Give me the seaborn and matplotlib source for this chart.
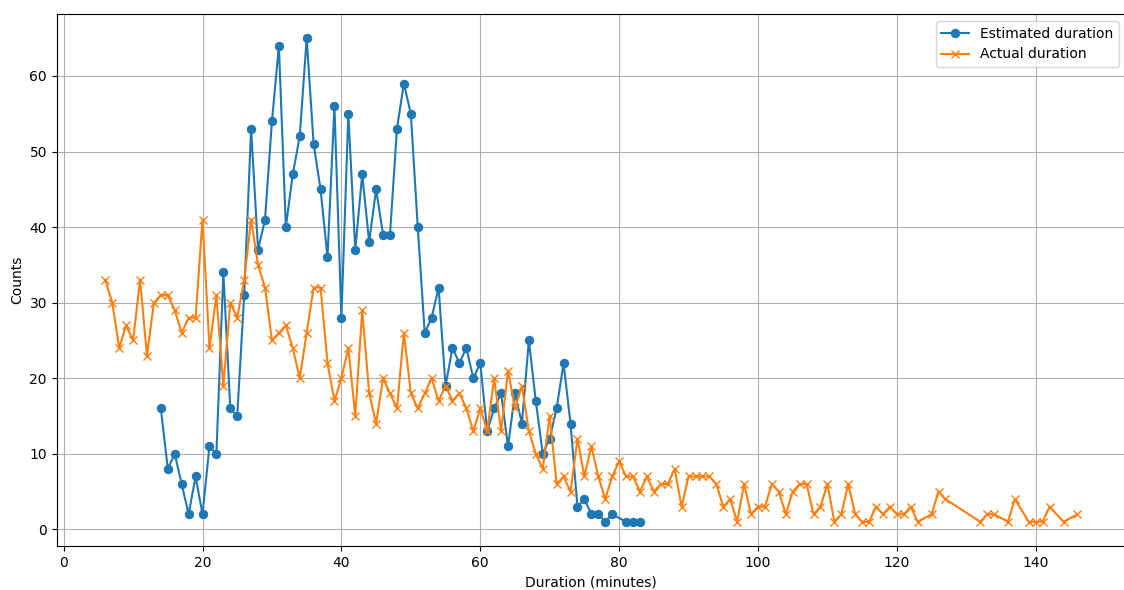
import numpy as np
import pandas as pd
import matplotlib
matplotlib.use("Agg")
import matplotlib.pyplot as plt
import seaborn as sns

# Estimated duration counts (minutes -> counts)
est_minutes = [14, 15, 16, 17, 18, 19, 20, 21, 22, 23, 24, 25, 26, 27, 28, 29, 30,
               31, 32, 33, 34, 35, 36, 37, 38, 39, 40, 41, 42, 43, 44, 45, 46, 47,
               48, 49, 50, 51, 52, 53, 54, 55, 56, 57, 58, 59, 60, 61, 62, 63, 64,
               65, 66, 67, 68, 69, 70, 71, 72, 73, 74, 75, 76, 77, 78, 79, 81, 82, 83]
est_counts = [16, 8, 10, 6, 2, 7, 2, 11, 10, 34, 16, 15, 31, 53, 37, 41, 54,
              64, 40, 47, 52, 65, 51, 45, 36, 56, 28, 55, 37, 47, 38, 45, 39, 39,
              53, 59, 55, 40, 26, 28, 32, 19, 24, 22, 24, 20, 22, 13, 16, 18, 11,
              18, 14, 25, 17, 10, 12, 16, 22, 14, 3, 4, 2, 2, 1, 2, 1, 1, 1]

# Actual duration counts
act_minutes = list(range(6, 124)) + [125, 126, 127, 132, 133, 134, 136, 137,
                                     139, 140, 141, 142, 144, 146]
act_counts = [33, 30, 24, 27, 25, 33, 23, 30, 31, 31, 29, 26, 28, 28, 41, 24, 31,
              19, 30, 28, 33, 41, 35, 32, 25, 26, 27, 24, 20, 26, 32, 32, 22, 17,
              20, 24, 15, 29, 18, 14, 20, 18, 16, 26, 18, 16, 18, 20, 17, 19, 17,
              18, 16, 13, 16, 13, 20, 13, 21, 16, 19, 13, 10, 8, 15, 6, 7, 5, 12,
              7, 11, 7, 4, 7, 9, 7, 7, 5, 7, 5, 6, 6, 8, 3, 7, 7, 7, 7, 6, 3, 4,
              1, 6, 2, 3, 3, 6, 5, 2, 5, 6, 6, 2, 3, 6, 1, 2, 6, 2, 1, 1, 3, 2,
              3, 2, 2, 3, 1,
              2, 5, 4, 1, 2, 2, 1, 4, 1, 1, 1, 3, 1, 2]

est = pd.DataFrame({'Duration': est_minutes, 'Counts': est_counts})
act = pd.DataFrame({'Duration': act_minutes, 'Counts': act_counts})

fig = plt.figure(figsize=(11.24, 5.9), dpi=100)
# axes run slightly past the right edge (the original picture is cropped there)
ax = fig.add_axes([56.7/1124, 44/590, (1126-56.7)/1124, (546-14)/590])

sns.lineplot(data=est, x='Duration', y='Counts', marker='o', color='#1f77b4',
             markeredgecolor='#1f77b4', markersize=6, label='Estimated duration', ax=ax)
sns.lineplot(data=act, x='Duration', y='Counts', marker='x', color='#ff7f0e',
             markeredgecolor='#ff7f0e', markeredgewidth=1, markersize=6,
             label='Actual duration', ax=ax)

ax.set_xlabel('Duration (minutes)')
ax.set_ylabel('Counts')
ax.grid(True)
ax.legend(loc='upper right')

plt.savefig('out.png')
